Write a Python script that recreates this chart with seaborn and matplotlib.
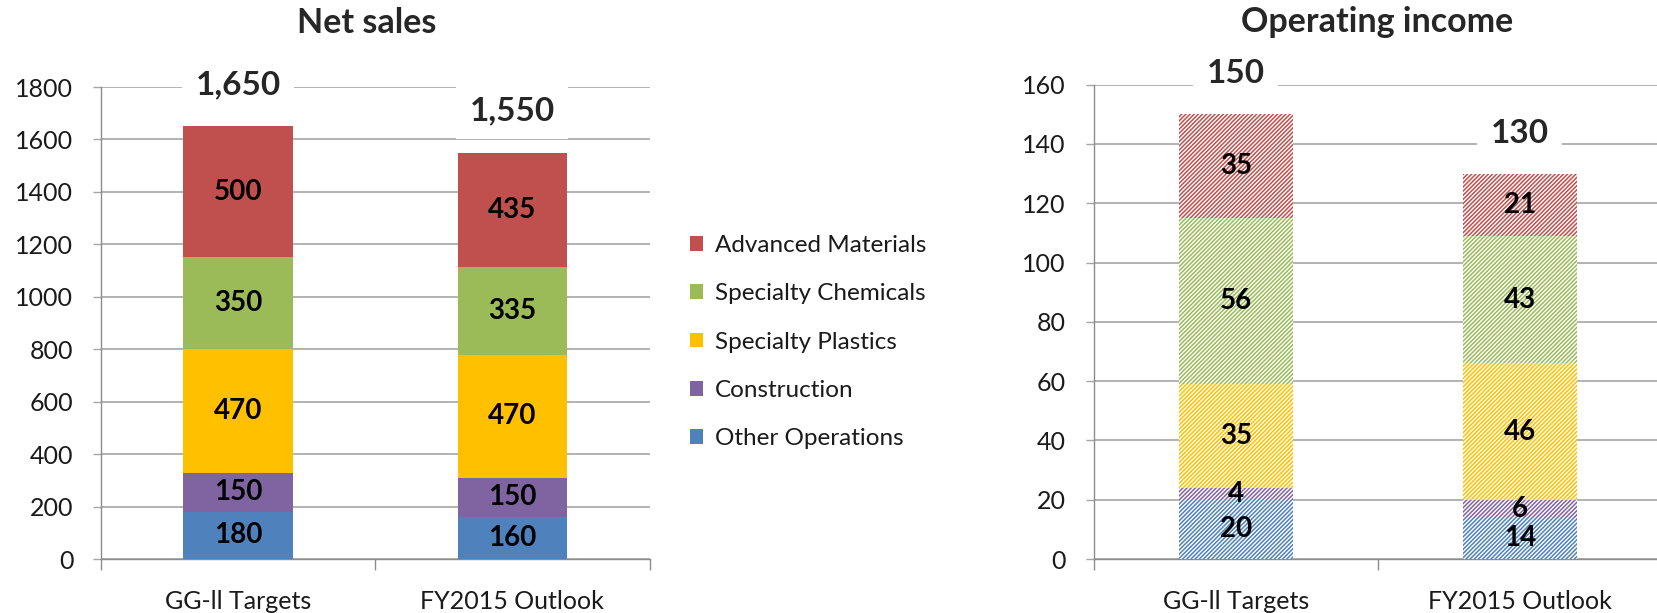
import numpy as np
import pandas as pd
import matplotlib
matplotlib.use("Agg")
import matplotlib.pyplot as plt
from matplotlib.patches import Patch
import seaborn as sns

# data
categories = ["GG-ll Targets", "FY2015 Outlook"]
segments = ["Other Operations", "Construction", "Specialty Plastics",
            "Specialty Chemicals", "Advanced Materials"]
colors = ["#4F81BD", "#8064A2", "#FFC000", "#9BBB59", "#C0504D"]

net_sales = {
    "Other Operations": [180, 160],
    "Construction": [150, 150],
    "Specialty Plastics": [470, 470],
    "Specialty Chemicals": [350, 335],
    "Advanced Materials": [500, 435],
}
op_income = {
    "Other Operations": [20, 14],
    "Construction": [4, 6],
    "Specialty Plastics": [35, 46],
    "Specialty Chemicals": [56, 43],
    "Advanced Materials": [35, 21],
}

sns.set_theme(style="white")
plt.rcParams["font.family"] = ["Lato", "DejaVu Sans"]
plt.rcParams["hatch.linewidth"] = 1.1

fig = plt.figure(figsize=(16.57, 6.13), dpi=100)
ax1 = fig.add_axes([0.061, 0.088, 0.331, 0.770])
ax2 = fig.add_axes([0.660, 0.088, 0.343, 0.774])

grid_col = "#A6A6A6"
spine_col = "#8C8C8C"


def stacked(ax, data, ymax, ystep, hatched, total_off):
    df = pd.DataFrame(data, index=categories)
    cum = df.cumsum(axis=1)
    # draw from the top segment down so each shorter bar covers the one behind
    for seg, col in zip(reversed(segments), reversed(colors)):
        n0 = len(ax.patches)
        sns.barplot(x=categories, y=cum[seg].values, color=col, saturation=1,
                    width=0.4, ax=ax, zorder=3)
        for p in ax.patches[n0:]:
            p.set_linewidth(0)
            if hatched:
                p.set_facecolor("white")
                p.set_edgecolor(col)
                p.set_hatch("////////")
    for i, cat in enumerate(categories):
        for seg in segments:
            v = df.loc[cat, seg]
            ax.text(i, cum.loc[cat, seg] - v / 2, f"{v}", ha="center", va="center",
                    fontsize=20, fontweight="bold", color="black", zorder=5)
        tot = cum.loc[cat, segments[-1]]
        ax.annotate(f"{tot:,}", (i, tot), xytext=(0, total_off), textcoords="offset points",
                    ha="center", va="center", fontsize=24, fontweight="bold",
                    bbox=dict(boxstyle="square,pad=0.4", fc="white", ec="none"), zorder=6)
    ax.set_ylim(0, ymax)
    ax.set_xlim(-0.5, 1.5)
    ax.set_yticks(np.arange(0, ymax + 1, ystep))
    ax.yaxis.grid(True, color=grid_col, linewidth=1.2, zorder=0)
    ax.xaxis.grid(False)
    ax.set_axisbelow(True)
    for s in ["top", "right"]:
        ax.spines[s].set_visible(False)
    for s in ["left", "bottom"]:
        ax.spines[s].set_color(spine_col)
        ax.spines[s].set_linewidth(1)
    ax.tick_params(axis="y", which="major", left=True, length=6, width=1, color=grid_col,
                   pad=14, labelsize=18, labelcolor="#1A1A1A")
    ax.set_xticks([-0.5, 0.5, 1.5], minor=True)
    ax.tick_params(axis="x", which="minor", bottom=True, length=8, width=1, color=spine_col)
    ax.tick_params(axis="x", which="major", length=0, pad=22, labelsize=18, labelcolor="#1A1A1A")
    ax.set_xlabel("")
    ax.set_ylabel("")


stacked(ax1, net_sales, 1800, 200, False, 30)
stacked(ax2, op_income, 160, 20, True, 29)

fig.text(0.2215, 1 - 23 / 613, "Net sales", ha="center", va="center",
         fontsize=24.5, fontweight="bold")
fig.text(0.831, 1 - 22 / 613, "Operating income", ha="center", va="center",
         fontsize=24.5, fontweight="bold")

handles = [Patch(facecolor=c, edgecolor="none") for c in reversed(colors)]
fig.legend(handles, list(reversed(segments)), loc="center left",
           bbox_to_anchor=(0.403, 0.442), frameon=False, fontsize=17.5,
           handlelength=0.55, handleheight=0.55, handletextpad=0.5,
           labelspacing=1.12, labelcolor="#1A1A1A")

fig.savefig("out.png", dpi=100)
